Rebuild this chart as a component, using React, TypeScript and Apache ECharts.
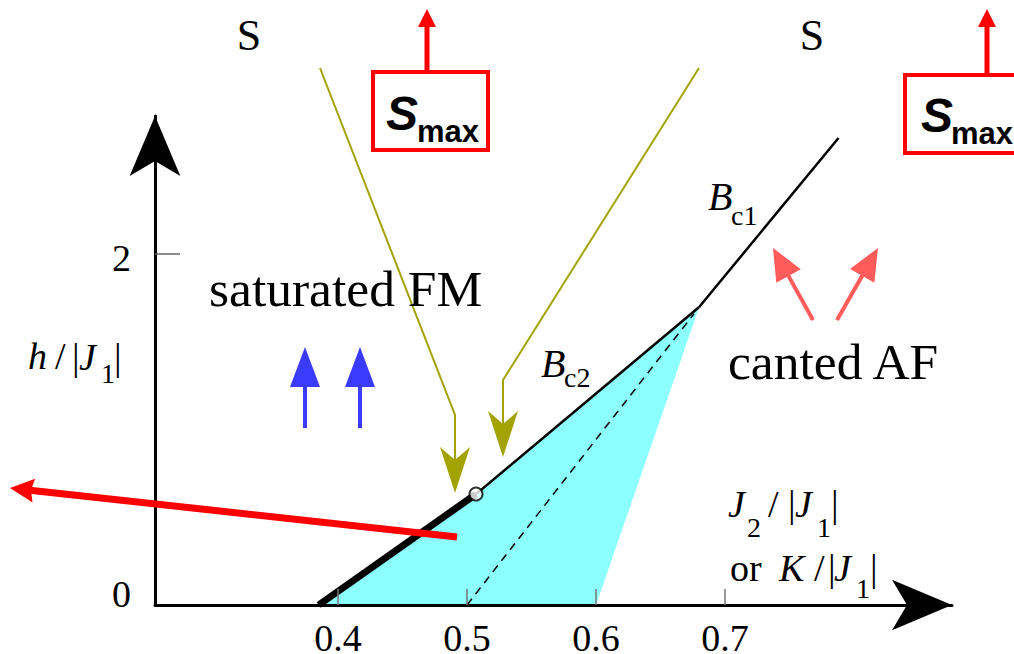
import React, { useEffect, useRef } from 'react';
import * as echarts from 'echarts';

// ---- data (phase boundaries, in axis units) ----
const xTicks = [0.4, 0.5, 0.6, 0.7];
const yTicks = [0, 2];
const bc2Thick = [[0.385, 0], [0.507, 0.632]];
const bc2Thin = [[0.507, 0.632], [0.68, 1.698]];
const bc1 = [[0.68, 1.698], [0.788, 2.661]];
const cantedRegion = [[0.385, 0], [0.507, 0.632], [0.68, 1.698], [0.6, 0]];
const dashedLine = [[0.5, 0], [0.676, 1.66]];
const openPoint = [[0.507, 0.632]];

const X_MIN = 0.25814;
const X_MAX = 0.87597;
const Y_MIN = 0;
const Y_MAX = 2.7863;

const SERIF = '"Liberation Serif", "Times New Roman", serif';
const SANS = '"Liberation Sans", Arial, sans-serif';

function arrowEls(x1: number, y1: number, x2: number, y2: number, color: string, lw: number, headLen: number, half: number, notch: number) {
  const dx = x2 - x1, dy = y2 - y1;
  const L = Math.hypot(dx, dy);
  const ux = dx / L, uy = dy / L;
  const px = -uy, py = ux;
  const bx = x2 - ux * headLen, by = y2 - uy * headLen;
  return [
    { type: 'line', z: 50, shape: { x1, y1, x2: bx + ux * (notch + 1), y2: by + uy * (notch + 1) }, style: { stroke: color, lineWidth: lw } },
    {
      type: 'polygon', z: 51,
      shape: { points: [[x2, y2], [bx + px * half, by + py * half], [bx + ux * notch, by + uy * notch], [bx - px * half, by - py * half]] },
      style: { fill: color },
    },
  ];
}

function polyArrow(pts: number[][], color: string, lw: number, headLen: number, half: number, notch: number) {
  const n = pts.length;
  const tip = pts[n - 1];
  const prev = pts[n - 2];
  const els: any[] = arrowEls(prev[0], prev[1], tip[0], tip[1], color, lw, headLen, half, notch);
  const dx = tip[0] - prev[0], dy = tip[1] - prev[1];
  const L = Math.hypot(dx, dy);
  const end = [tip[0] - dx / L * (headLen - notch - 1), tip[1] - dy / L * (headLen - notch - 1)];
  els[0] = { type: 'polyline', z: 50, shape: { points: [...pts.slice(0, n - 1), end] }, style: { stroke: color, lineWidth: lw, fill: null } };
  return els;
}

function txt(text: string, x: number, y: number, size: number, opts: any = {}) {
  return {
    type: 'text', z: 60, x, y,
    style: {
      text, fontSize: size, fontFamily: opts.family || SERIF, fontStyle: opts.italic ? 'italic' : 'normal',
      fontWeight: opts.bold ? 'bold' : 'normal', fill: opts.color || '#000',
      align: opts.align || 'left', verticalAlign: 'middle',
    },
  };
}

function smaxBox(bx: number, by: number, arrowX: number, sX: number, sY: number, mX: number, mY: number) {
  return [
    { type: 'rect', z: 50, shape: { x: bx, y: by, width: 115, height: 78 }, style: { stroke: '#ff0000', lineWidth: 4, fill: '#fff' } },
    ...arrowEls(arrowX, by, arrowX, 9, '#ff0000', 5, 18, 9, 0),
    txt('S', sX, sY, 48, { family: SANS, bold: true, italic: true }),
    txt('max', mX, mY, 31, { family: SANS, bold: true }),
  ];
}

const olive = '#a3a300';

const graphics: any[] = [
  // top S labels
  txt('S', 249, 35, 44, { align: 'center' }),
  txt('S', 812, 35, 44, { align: 'center' }),
  ...smaxBox(373, 72, 427, 386, 113, 417, 131),
  ...smaxBox(905, 75, 987, 921, 115, 951, 133),
  // olive arrows
  ...polyArrow([[320, 68], [455, 415], [455, 493]], olive, 2, 46, 15, 13),
  ...polyArrow([[699, 68], [503, 380], [503, 457]], olive, 2, 46, 15, 13),
  // region labels
  txt('saturated FM', 209, 288.5, 51.5),
  txt('canted AF', 728, 361.5, 51.5),
  // blue arrows
  ...arrowEls(305, 428, 305, 347, '#3b3bff', 4, 40, 15, 0),
  ...arrowEls(360, 428, 360, 347, '#3b3bff', 4, 40, 15, 0),
  // pink arrows
  ...arrowEls(813, 320, 773, 248, '#ff5b5b', 4, 32, 14, 0),
  ...arrowEls(837, 320, 878, 248, '#ff5b5b', 4, 32, 14, 0),
  // red long arrow
  ...arrowEls(457, 537, 10, 488, '#ff0000', 7, 24, 12, 3),
  // boundary labels
  txt('B', 541, 363.8, 40, { italic: true }),
  txt('c2', 564, 377.8, 28),
  txt('B', 708, 196.8, 40, { italic: true }),
  txt('c1', 731, 215.8, 28),
  // y axis name
  txt('h', 28, 355.5, 38, { italic: true }),
  txt('/', 55, 355.5, 38),
  txt('|', 72, 357, 38),
  txt('J', 79, 357, 38, { italic: true }),
  txt('1', 101, 373.8, 28),
  txt('|', 114, 357, 38),
  // x axis name
  txt('J', 728, 503.5, 38, { italic: true }),
  txt('2', 747, 527.8, 28),
  txt('/', 768, 503.5, 38),
  txt('|', 788, 503.5, 38),
  txt('J', 795, 503.5, 38, { italic: true }),
  txt('1', 817, 527.8, 28),
  txt('|', 831, 503.5, 38),
  txt('or', 730, 567.5, 38),
  txt('K', 779, 567.5, 38, { italic: true }),
  txt('/', 814, 567.5, 38),
  txt('|', 828, 567.5, 38),
  txt('J', 834, 567.5, 38, { italic: true }),
  txt('1', 856, 588.8, 28),
  txt('|', 870, 567.5, 38),
];

export default function App() {
  const ref = useRef<HTMLDivElement>(null);
  useEffect(() => {
    if (!ref.current) return;
    const chart = echarts.init(ref.current, null, { renderer: 'svg' });
    chart.setOption({
      animation: false,
      backgroundColor: '#fff',
      grid: { left: 155, right: 62, top: 116, bottom: 49, containLabel: false, outerBoundsMode: 'none' },
      xAxis: {
        type: 'value', min: X_MIN, max: X_MAX, z: 10,
        axisLine: { show: true, onZero: false, symbol: ['none', 'arrow'], symbolSize: [38, 60], lineStyle: { color: '#000', width: 3 } },
        axisTick: { show: true, inside: true, length: 16, customValues: xTicks, lineStyle: { color: '#777', width: 1.5 } },
        axisLabel: { show: true, customValues: xTicks, margin: 14, fontSize: 38, fontFamily: SERIF, color: '#000', formatter: (v: number) => v.toFixed(1) },
        splitLine: { show: false },
      },
      yAxis: {
        type: 'value', min: Y_MIN, max: Y_MAX, z: 10,
        axisLine: { show: true, onZero: false, symbol: ['none', 'arrow'], symbolSize: [38, 60], lineStyle: { color: '#000', width: 3 } },
        axisTick: { show: true, inside: true, length: 25, customValues: [2], lineStyle: { color: '#666', width: 1.5 } },
        axisLabel: {
          show: true, customValues: yTicks, margin: 24, fontSize: 38, fontFamily: SERIF, color: '#000',
          formatter: (v: number) => (v === 0 ? '{a|0}' : '{b|' + v + '}'),
          rich: {
            a: { fontSize: 38, fontFamily: SERIF, padding: [0, 0, 22, 0] },
            b: { fontSize: 38, fontFamily: SERIF, padding: [8, 0, 0, 0] },
          },
        },
        splitLine: { show: false },
      },
      series: [
        {
          type: 'custom', coordinateSystem: 'cartesian2d', z: 1, silent: true, clip: false,
          data: cantedRegion,
          renderItem: (params: any, api: any) => {
            if (params.dataIndex !== 0) return null;
            return { type: 'polygon', shape: { points: cantedRegion.map((p) => api.coord(p)) }, style: { fill: '#8cffff' } };
          },
        },
        { type: 'line', data: dashedLine, showSymbol: false, silent: true, z: 3, clip: false, lineStyle: { color: '#000', width: 1.5, type: [8, 6] } },
        { type: 'line', data: bc2Thick, showSymbol: false, silent: true, z: 4, clip: false, lineStyle: { color: '#000', width: 7, cap: 'butt' } },
        { type: 'line', data: bc2Thin, showSymbol: false, silent: true, z: 4, clip: false, lineStyle: { color: '#000', width: 2.5 } },
        { type: 'line', data: bc1, showSymbol: false, silent: true, z: 4, clip: false, lineStyle: { color: '#000', width: 2.5 } },
        { type: 'scatter', data: openPoint, symbol: 'circle', symbolSize: 13, silent: true, z: 6, itemStyle: { color: '#fff', borderColor: '#000', borderWidth: 2 } },
      ],
      graphic: graphics,
    });
    return () => chart.dispose();
  }, []);
  return <div ref={ref} style={{ position: 'fixed', left: 0, top: 0, width: 1014, height: 654 }} />;
}
